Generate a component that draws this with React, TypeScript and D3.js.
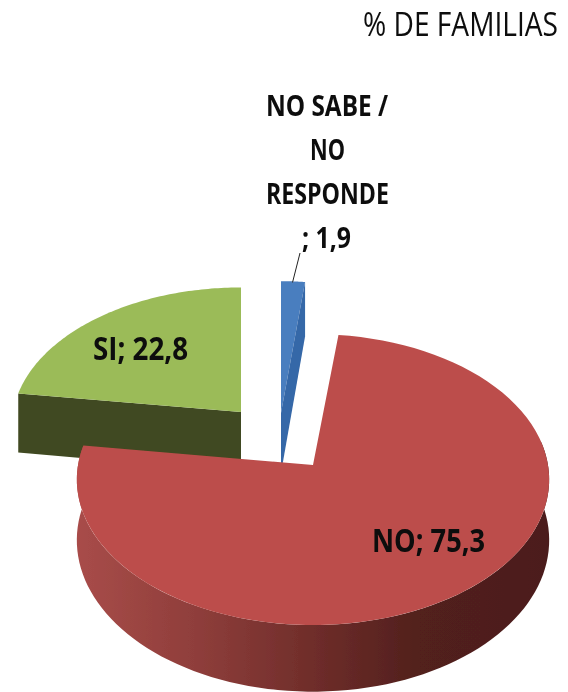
import React from "react";
import * as d3 from "d3";

const categories = ["NO SABE / NO RESPONDE", "NO", "SI"];
const values = [1.9, 75.3, 22.8];
const topColors = ["#4a7ebf", "#bc4e4b", "#9bbb59"];
const wallColors = ["#3668a8", "#7a302e", "#404a20"];

// Exploded apex of each slice on screen, and its projected radii
const apexX = [281, 313, 241];
const apexY = [413, 465, 412];
const radiusX = [222, 235, 228];
const radiusY = [145, 144, 137];

const perspective = 0.1;
const thickness = 60;

const labelLines = [
  { text: "% DE FAMILIAS", x: 363, y: 36, w: 195, size: 33, weight: 400 },
  { text: "NO SABE /", x: 266, y: 116, w: 122, size: 29, weight: 700 },
  { text: "NO", x: 310, y: 160, w: 35, size: 29, weight: 700 },
  { text: "RESPONDE", x: 266, y: 204, w: 123, size: 29, weight: 700 },
  { text: "; 1,9", x: 302, y: 248, w: 49, size: 29, weight: 700 },
  { text: "SI; 22,8", x: 93, y: 360, w: 95, size: 32, weight: 700 },
  { text: "NO; 75,3", x: 372, y: 552, w: 113, size: 32, weight: 700 },
];

const W = 568;
const H = 692;
const tallText = 1.27; // the reference's condensed face: tall, narrow letters

type Pt = [number, number];

const arcs = d3
  .pie<number>()
  .sort(null)
  .startAngle(0)
  .endAngle(2 * Math.PI)(values);

// Circle on the pie plane -> screen, with perspective shrink towards the back
function project(i: number, a: number, drop = 0): Pt {
  const u = Math.sin(a);
  const v = Math.cos(a);
  const f = 1 / (1 + perspective * v);
  return [
    apexX[i] + radiusX[i] * u * f,
    apexY[i] - radiusY[i] * v * f + drop * f,
  ];
}

function arcPts(i: number, a0: number, a1: number, drop = 0): Pt[] {
  const n = 90;
  return d3.range(n + 1).map((k) => project(i, a0 + ((a1 - a0) * k) / n, drop));
}

const line = d3.line<Pt>().curve(d3.curveLinear);
const rad = (deg: number) => (deg * Math.PI) / 180;

function topPath(i: number): string {
  const s = arcs[i];
  const apex: Pt = [apexX[i], apexY[i]];
  return line([apex, ...arcPts(i, s.startAngle, s.endAngle), apex]) + "Z";
}

// Radial cut wall running from the apex to one rim corner
function cutWall(i: number, a: number, depthAtApex: number): string {
  const rim = project(i, a);
  const rimLow = project(i, a, thickness);
  return (
    line([
      [apexX[i], apexY[i]],
      rim,
      rimLow,
      [apexX[i], apexY[i] + depthAtApex],
    ]) + "Z"
  );
}

// Outer curved wall of the large slice
function outerWall(i: number): string {
  const s = arcs[i];
  const a0 = Math.max(s.startAngle, rad(80));
  const a1 = s.endAngle;
  return (
    line([...arcPts(i, a0, a1), ...arcPts(i, a1, a0, thickness)]) + "Z"
  );
}

export default function App() {
  const [blue, red, green] = [0, 1, 2];
  const leaderA = project(blue, (arcs[blue].startAngle + arcs[blue].endAngle) / 2);
  return (
    <svg
      width={W}
      height={H}
      viewBox={`0 0 ${W} ${H}`}
      style={{ position: "absolute", left: 0, top: 0, background: "#fff" }}
    >
      <defs>
        <linearGradient id="redWall" gradientUnits="userSpaceOnUse" x1={78} x2={548} y1={0} y2={0}>
          <stop offset="0" stopColor="#a84c49" />
          <stop offset="0.25" stopColor="#8f3e3b" />
          <stop offset="0.5" stopColor="#6f2d2a" />
          <stop offset="0.72" stopColor="#52201d" />
          <stop offset="1" stopColor="#4c1e1c" />
        </linearGradient>
        <filter id="soft" x="-5%" y="-5%" width="110%" height="110%">
          <feGaussianBlur stdDeviation="0.6" />
        </filter>
      </defs>

      <g filter="url(#soft)">
        <g>
          <title>{categories[green]}</title>
          <path d={cutWall(green, arcs[green].startAngle, thickness)} fill={wallColors[green]} />
          <path d={topPath(green)} fill={topColors[green]} />
        </g>

        <g>
          <title>{categories[blue]}</title>
          <path d={topPath(blue)} fill={topColors[blue]} />
          <path d={cutWall(blue, arcs[blue].endAngle, thickness)} fill={wallColors[blue]} />
        </g>

        <g>
          <title>{categories[red]}</title>
          <path d={outerWall(red)} fill="url(#redWall)" />
          <path d={topPath(red)} fill={topColors[red]} />
        </g>

        <line x1={leaderA[0] - 0.5} y1={leaderA[1] + 1} x2={300} y2={253} stroke="#222" strokeWidth={1} />

        {labelLines.map((t) => (
          <text
            key={t.text + t.y}
            transform={`translate(${t.x},${t.y}) scale(1,${tallText})`}
            textLength={t.w}
            lengthAdjust="spacingAndGlyphs"
            fontFamily="'Open Sans', sans-serif"
            fontSize={t.size / tallText}
            fontWeight={t.weight}
            fill="#0c0c0c"
          >
            {t.text}
          </text>
        ))}
      </g>
    </svg>
  );
}
